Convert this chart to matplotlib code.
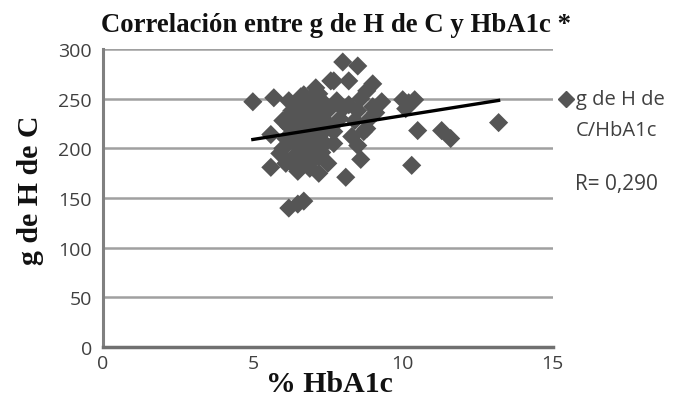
import numpy as np
import matplotlib
matplotlib.use("Agg")
import matplotlib.pyplot as plt
from matplotlib.lines import Line2D

title = "Correlación entre g de H de C y HbA1c *"
x_label = "% HbA1c"
y_label = "g de H de C"
legend_label = ["g de H de", "C/HbA1c"]
r_text = "R= 0,290"
x_ticks = [0, 5, 10, 15]
y_ticks = [0, 50, 100, 150, 200, 250, 300]

hba1c = [5.0, 5.7, 5.6, 5.6, 6.2, 6.5, 6.7, 6.5, 7.2, 8.1, 8.6, 8.5, 8.3, 7.7, 8.8,
         8.7, 8.0, 8.5, 7.7, 8.2, 9.0, 8.8, 9.3, 10.0, 10.4, 10.1, 10.5, 11.3, 11.6,
         10.3, 13.2, 7.1, 6.7, 8.0, 8.5, 9.0, 7.8, 8.2, 8.6, 9.1, 7.9, 8.4, 7.5, 8.9,
         6.0, 6.1, 6.2, 6.3, 6.3, 6.4, 6.4, 6.5, 6.5, 6.6, 6.6, 6.7, 6.7, 6.8, 6.8,
         6.9, 6.9, 7.0, 7.0, 7.0, 7.1, 7.1, 7.2, 7.2, 7.3, 7.3, 7.4, 7.4, 7.5, 7.5,
         6.1, 6.0, 5.9, 6.2, 6.6, 7.6, 7.7, 6.9, 6.4, 7.2, 7.6, 6.3, 7.3, 10.2]
hc_g = [247, 251, 214, 181, 140, 144, 147, 177, 175, 171, 189, 203, 212, 217, 220,
        217, 287, 283, 268, 268, 265, 258, 247, 249, 249, 240, 218, 218, 210,
        183, 226, 261, 254, 240, 238, 242, 248, 244, 250, 236, 230, 228, 238, 230,
        200, 210, 222, 190, 235, 205, 245, 215, 195, 228, 185, 240, 205, 218, 195,
        250, 230, 210, 188, 243, 222, 200, 235, 192, 248, 215, 228, 205, 240, 185,
        185, 228, 195, 248, 252, 222, 205, 180, 182, 255, 268, 238, 196, 246]

fig = plt.figure(figsize=(6.75, 4.14), dpi=100)
ax = fig.add_axes([0.1526, 0.159, 0.666, 0.72])

ax.scatter(hba1c, hc_g, marker="D", s=95, color="#555555", edgecolors="none", zorder=3)

coef = np.polyfit(hba1c, hc_g, 1)
xs = np.array([min(hba1c), max(hba1c)])
ax.plot(xs, np.polyval(coef, xs), color="black", lw=2.4, zorder=4)

ax.set_xlim(0, 15)
ax.set_ylim(0, 300)
ax.set_xticks(x_ticks)
ax.set_yticks(y_ticks)
tick_font = dict(family="Open Sans", size=14, color="#404040")
ax.set_xticklabels([str(t) for t in x_ticks], **tick_font)
ax.set_yticklabels([str(t) for t in y_ticks], **tick_font)
ax.tick_params(axis="y", length=0, pad=8)
ax.tick_params(axis="x", length=0, pad=5)
ax.yaxis.grid(True, color="#a0a0a0", lw=1.8)
ax.set_axisbelow(True)
for s in ["top", "right"]:
    ax.spines[s].set_visible(False)
ax.spines["left"].set_color("#808080")
ax.spines["left"].set_linewidth(2.2)
ax.spines["bottom"].set_color("#707070")
ax.spines["bottom"].set_linewidth(2.5)

serif = dict(family="Liberation Serif", weight="bold", color="#111111")
fig.text(336 / 675, 1 - 25 / 414, title, ha="center", va="center", fontsize=19.3, **serif)
fig.text(329 / 675, 1 - 385 / 414, x_label, ha="center", va="center", fontsize=21.5, **serif)
fig.text(31 / 675, 1 - 190 / 414, y_label, ha="center", va="center", rotation=90,
         fontsize=21.5, **serif)

fig.add_artist(Line2D([566 / 675], [1 - 100 / 414], marker="D", markersize=8,
                      color="#555555", linestyle="none"))
fig.text(576 / 675, 1 - 100 / 414, legend_label[0], ha="left", va="center",
         family="Open Sans", fontsize=14.5, color="#404040")
fig.text(576 / 675, 1 - 131 / 414, legend_label[1], ha="left", va="center",
         family="Open Sans", fontsize=14.5, color="#404040")
fig.text(575 / 675, 1 - 185 / 414, r_text, ha="left", va="center",
         family="Open Sans", fontsize=15, color="#404040")

fig.savefig("out.png", dpi=100)
